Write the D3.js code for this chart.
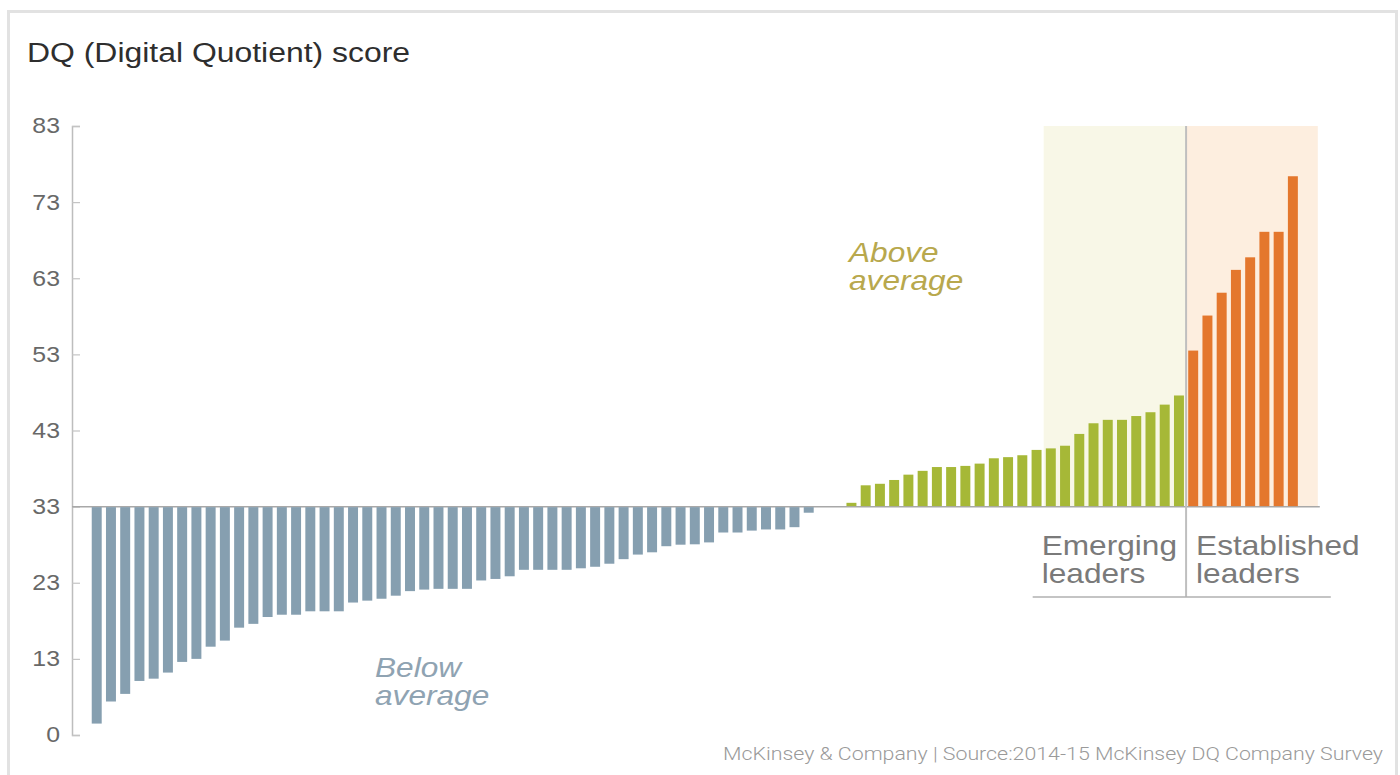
<!DOCTYPE html>
<html>
<head>
<meta charset="utf-8">
<script src="https://cdn.jsdelivr.net/npm/d3@7"></script>
<style>
  html, body { margin: 0; padding: 0; background: #fff; }
  svg { display: block; }
</style>
</head>
<body>
<svg id="chart" width="1400" height="775"></svg>
<script>
// ---------------- data ----------------
const title = "DQ (Digital Quotient) score";
const footer = "McKinsey & Company | Source:2014-15 McKinsey DQ Company Survey";

// DQ scores of companies, sorted ascending
const belowValues = [4.5, 7.4, 8.4, 10.1, 10.4, 11.2, 12.6, 13.0, 14.6, 15.4, 17.1, 17.6, 18.5, 18.8, 18.8,
  19.25, 19.25, 19.25, 20.4, 20.65, 20.9, 21.3, 21.9, 22.1, 22.2, 22.2, 22.2, 23.3, 23.5, 23.85,
  24.7, 24.7, 24.7, 24.7, 24.9, 25.1, 25.5, 26.1, 26.7, 27.0, 27.8, 28.0, 28.05, 28.3, 29.6,
  29.6, 29.85, 30.0, 30.0, 30.3, 32.2];
const averageValues = [33, 33];
const aboveValues = [33.5, 35.8, 36.0, 36.5, 37.2, 37.7, 38.2, 38.2, 38.35, 38.65, 39.35, 39.5, 39.75, 40.45];
const emergingValues = [40.65, 41.0, 42.55, 43.95, 44.4, 44.4, 44.9, 45.4, 46.4, 47.6];
const establishedValues = [53.5, 58.1, 61.1, 64.1, 65.75, 69.1, 69.1, 76.4];

const average = 33;
const yTickValues = [3, 13, 23, 33, 43, 53, 63, 73, 83];
const yTickLabels = ["0", "13", "23", "33", "43", "53", "63", "73", "83"];

const groupLabels = {
  above: ["Above", "average"],
  below: ["Below", "average"],
  emerging: ["Emerging", "leaders"],
  established: ["Established", "leaders"]
};

// ---------------- build ----------------
const rows = [];
belowValues.forEach(v => rows.push({v, g: "below"}));
averageValues.forEach(v => rows.push({v, g: "avg"}));
aboveValues.forEach(v => rows.push({v, g: "above"}));
emergingValues.forEach(v => rows.push({v, g: "emerging"}));
establishedValues.forEach(v => rows.push({v, g: "established"}));
rows.forEach((d, i) => d.i = i);

const colors = {below: "#869fb0", avg: "#869fb0", above: "#a6b837", emerging: "#a6b837", established: "#e4772d"};
const SX = 1.13; // horizontal stretch of the reference's typography
const FONT = "'Liberation Sans', Arial, sans-serif";

const svg = d3.select("#chart");

const x = d3.scaleBand()
  .domain(rows.map(d => d.i))
  .range([89.6, 1300])
  .paddingInner(0.3)
  .paddingOuter(0.15);

const y = d3.scaleLinear().domain([3, 83]).range([735, 126]);

function stext(sel, tx, ty, str, opts) {
  return sel.append("text")
    .attr("transform", `translate(${tx},${ty}) scale(${opts.sx || SX},1)`)
    .attr("font-family", opts.family || FONT)
    .attr("font-size", opts.size)
    .attr("font-style", opts.style || "normal")
    .attr("font-weight", opts.weight || "normal")
    .attr("text-anchor", opts.anchor || "start")
    .attr("dominant-baseline", opts.baseline || "auto")
    .attr("fill", opts.fill)
    .text(str);
}

// frame
svg.append("rect")
  .attr("x", 8.5).attr("y", 11.5).attr("width", 1388).attr("height", 820)
  .attr("fill", "none").attr("stroke", "#e2e2e2").attr("stroke-width", 3);

// title
stext(svg, 27, 62, title, {size: 28, fill: "#2e2e2e", sx: 1.14});

// shaded regions
const step = x.step();
const gapHalf = (step - x.bandwidth()) / 2;
const firstEmerging = rows.find(d => d.g === "emerging").i;
const firstEstablished = rows.find(d => d.g === "established").i;
const lastIdx = rows.length - 1;
const xEm0 = x(firstEmerging) - gapHalf;
const xEs0 = x(firstEstablished) - gapHalf;
const xEs1 = x(lastIdx) + x.bandwidth() + 1.55 * step - gapHalf;

svg.append("rect").attr("x", xEm0).attr("y", y(83)).attr("width", xEs0 - xEm0).attr("height", y(average) - y(83))
  .attr("fill", "#f8f7e7");
svg.append("rect").attr("x", xEs0).attr("y", y(83)).attr("width", xEs1 - xEs0).attr("height", y(average) - y(83))
  .attr("fill", "#fdeedf");

// y axis
const axisG = svg.append("g").attr("transform", "translate(72,0)");
const yAxis = d3.axisRight(y).tickValues(yTickValues).tickSize(8).tickFormat("");
axisG.call(yAxis);
axisG.select(".domain").attr("stroke", "#bdbdbd").attr("stroke-width", 1.5);
axisG.selectAll(".tick line").attr("stroke", "#c4c4c4").attr("stroke-width", 1.2);
yTickValues.forEach((t, k) => {
  stext(svg, 60, y(t), yTickLabels[k], {size: 22, fill: "#686868", anchor: "end", baseline: "central"});
});

// baseline at average
svg.append("line")
  .attr("x1", 72).attr("x2", xEs1 + 2)
  .attr("y1", y(average)).attr("y2", y(average))
  .attr("stroke", "#a8a8a8").attr("stroke-width", 1.5);

// bars
svg.append("g").selectAll("rect")
  .data(rows.filter(d => d.v !== average))
  .join("rect")
  .attr("x", d => x(d.i))
  .attr("width", x.bandwidth())
  .attr("y", d => d.v > average ? y(d.v) : y(average) + 0.5)
  .attr("height", d => Math.abs(y(d.v) - y(average)) - 0.5)
  .attr("fill", d => colors[d.g]);

// divider and underline of leader labels
svg.append("line")
  .attr("x1", xEs0).attr("x2", xEs0).attr("y1", y(83)).attr("y2", 597)
  .attr("stroke", "#bfbfbf").attr("stroke-width", 2);
svg.append("line")
  .attr("x1", xEm0 - 11).attr("x2", xEs1 + 13).attr("y1", 597).attr("y2", 597)
  .attr("stroke", "#b0b0b0").attr("stroke-width", 1.5);

// group labels
const labelOpts = {size: 28, fill: "#7a7a7a"};
stext(svg, xEm0 - 2, 555, groupLabels.emerging[0], labelOpts);
stext(svg, xEm0 - 2, 583, groupLabels.emerging[1], labelOpts);
stext(svg, xEs0 + 10, 555, groupLabels.established[0], labelOpts);
stext(svg, xEs0 + 10, 583, groupLabels.established[1], labelOpts);

const aboveOpts = {size: 28, fill: "#b8a84d", style: "italic"};
stext(svg, 849, 262, groupLabels.above[0], aboveOpts);
stext(svg, 849, 290, groupLabels.above[1], aboveOpts);
const belowOpts = {size: 28, fill: "#8fa3b2", style: "italic"};
stext(svg, 375, 677, groupLabels.below[0], belowOpts);
stext(svg, 375, 705, groupLabels.below[1], belowOpts);

// footer
svg.append("text")
  .attr("x", 1383).attr("y", 760)
  .attr("text-anchor", "end")
  .attr("font-family", "Roboto, sans-serif")
  .attr("font-weight", 300)
  .attr("font-size", 19)
  .attr("fill", "#9a9a9a")
  .attr("textLength", 660)
  .attr("lengthAdjust", "spacingAndGlyphs")
  .text(footer);
</script>
</body>
</html>
